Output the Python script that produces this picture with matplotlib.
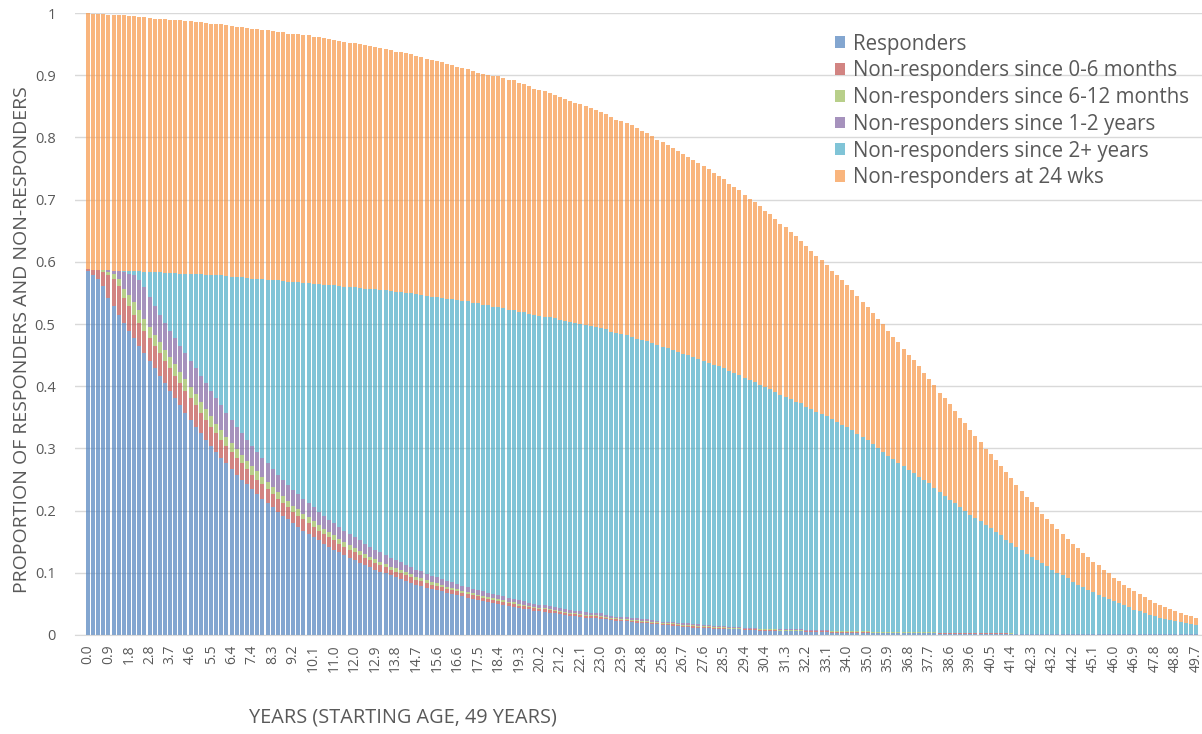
import numpy as np
import matplotlib
matplotlib.use("Agg")
import matplotlib.pyplot as plt

# stacked shares per 12-week cycle (217 bars)
responders = [
    0.586, 0.579, 0.573, 0.561, 0.542, 0.529, 0.515, 0.502, 0.489, 0.477,
    0.465, 0.453, 0.441, 0.429, 0.417, 0.405, 0.393, 0.381, 0.369, 0.357,
    0.346, 0.335, 0.324, 0.314, 0.304, 0.294, 0.285, 0.276, 0.267, 0.258,
    0.250, 0.242, 0.234, 0.226, 0.219, 0.212, 0.205, 0.198, 0.192, 0.186,
    0.180, 0.174, 0.168, 0.163, 0.157, 0.152, 0.147, 0.142, 0.137, 0.133,
    0.128, 0.124, 0.120, 0.116, 0.112, 0.109, 0.105, 0.102, 0.099, 0.096,
    0.093, 0.090, 0.087, 0.084, 0.081, 0.079, 0.076, 0.074, 0.072, 0.070,
    0.068, 0.066, 0.064, 0.062, 0.060, 0.058, 0.056, 0.054, 0.053, 0.051,
    0.050, 0.048, 0.046, 0.045, 0.043, 0.042, 0.041, 0.039, 0.038, 0.037,
    0.036, 0.035, 0.034, 0.032, 0.031, 0.030, 0.029, 0.028, 0.027, 0.027,
    0.026, 0.025, 0.024, 0.023, 0.022, 0.022, 0.021, 0.020, 0.019, 0.019,
    0.018, 0.017, 0.016, 0.016, 0.015, 0.014, 0.013, 0.013, 0.012, 0.012,
    0.011, 0.011, 0.010, 0.010, 0.010, 0.009, 0.009, 0.009, 0.008, 0.008,
    0.008, 0.007, 0.007, 0.007, 0.007, 0.006, 0.006, 0.006, 0.006, 0.006,
    0.005, 0.005, 0.005, 0.005, 0.005, 0.004, 0.004, 0.004, 0.004, 0.004,
    0.004, 0.004, 0.004, 0.003, 0.003, 0.003, 0.003, 0.003, 0.003, 0.003,
    0.003, 0.003, 0.003, 0.003, 0.003, 0.003, 0.002, 0.002, 0.002, 0.002,
    0.002, 0.002, 0.002, 0.002, 0.002, 0.002, 0.002, 0.002, 0.002, 0.002,
    0.002, 0.001, 0.001, 0.001, 0.001, 0.001, 0.001, 0.001, 0.001, 0.001,
    0.001, 0.001, 0.001, 0.001, 0.001, 0.001, 0.001, 0.001, 0.001, 0.001,
    0.001, 0.001, 0.001, 0.001, 0.001, 0.001, 0.001, 0.001, 0.001, 0.001,
    0.001, 0.001, 0.001, 0.001, 0.001, 0.001, 0.001,
]

nr_0_6m = [
    0.002, 0.008, 0.014, 0.022, 0.037, 0.044, 0.046, 0.040, 0.040, 0.038,
    0.037, 0.036, 0.036, 0.036, 0.036, 0.036, 0.036, 0.036, 0.036, 0.036,
    0.035, 0.034, 0.033, 0.032, 0.031, 0.030, 0.029, 0.028, 0.027, 0.027,
    0.026, 0.025, 0.024, 0.024, 0.023, 0.022, 0.021, 0.021, 0.020, 0.019,
    0.018, 0.018, 0.018, 0.017, 0.017, 0.016, 0.016, 0.015, 0.015, 0.014,
    0.014, 0.013, 0.013, 0.012, 0.012, 0.011, 0.011, 0.010, 0.010, 0.009,
    0.009, 0.009, 0.009, 0.009, 0.008, 0.008, 0.008, 0.007, 0.007, 0.007,
    0.006, 0.006, 0.006, 0.006, 0.006, 0.006, 0.006, 0.006, 0.005, 0.005,
    0.005, 0.005, 0.005, 0.005, 0.004, 0.004, 0.004, 0.004, 0.004, 0.004,
    0.004, 0.003, 0.003, 0.003, 0.003, 0.003, 0.003, 0.003, 0.003, 0.003,
    0.003, 0.003, 0.002, 0.002, 0.002, 0.002, 0.002, 0.002, 0.002, 0.002,
    0.002, 0.002, 0.002, 0.002, 0.002, 0.002, 0.002, 0.002, 0.002, 0.0015,
    0.0015, 0.0015, 0.0015, 0.0015, 0.0015, 0.001, 0.001, 0.001, 0.001, 0.001,
] + [0.001] * 25 + [0.0008] * 5 + [0.0006] * 10 + [0.0005] * 10 + [0.0004] * 10 + [0.0003] * 27

nr_6_12m = [
    0.0, 0.0, 0.0, 0.004, 0.005, 0.008, 0.011, 0.015, 0.017, 0.021,
    0.020, 0.019, 0.018, 0.018, 0.018, 0.018, 0.018, 0.018, 0.018, 0.018,
    0.018, 0.018, 0.018, 0.017, 0.017, 0.016, 0.016, 0.015, 0.015, 0.014,
    0.014, 0.013, 0.013, 0.013, 0.012, 0.012, 0.012, 0.011, 0.011, 0.010,
    0.010, 0.010, 0.009, 0.009, 0.009, 0.009, 0.008, 0.008, 0.008, 0.008,
    0.007, 0.007, 0.007, 0.007, 0.006, 0.006, 0.006, 0.006, 0.005, 0.005,
    0.005, 0.005, 0.0045, 0.0045, 0.0045, 0.0045, 0.0045, 0.0045, 0.004, 0.004,
    0.0035, 0.0035, 0.0035, 0.003, 0.003, 0.003, 0.003, 0.003, 0.003, 0.003,
    0.003, 0.0025, 0.0025, 0.0025, 0.0025, 0.0025, 0.002, 0.002, 0.002, 0.002,
    0.002, 0.002, 0.002, 0.002, 0.002, 0.0018, 0.0018, 0.0018, 0.0018, 0.0018,
] + [0.0016] * 10 + [0.0015] * 10 + [0.0012] * 10 + [0.001] * 20 + [0.0008] * 10 + [0.0006] * 10 + [0.0005] * 10 + [0.0004] * 10 + [0.0003] * 27

nr_1_2y = [
    0.0, 0.0, 0.0, 0.0, 0.003, 0.005, 0.014, 0.027, 0.035, 0.043,
    0.049, 0.051, 0.048, 0.046, 0.044, 0.043, 0.042, 0.042, 0.042, 0.042,
    0.042, 0.042, 0.042, 0.042, 0.041, 0.041, 0.040, 0.038, 0.037, 0.036,
    0.035, 0.034, 0.033, 0.032, 0.031, 0.030, 0.029, 0.028, 0.027, 0.026,
    0.025, 0.025, 0.024, 0.023, 0.022, 0.021, 0.021, 0.020, 0.020, 0.019,
    0.019, 0.018, 0.018, 0.017, 0.016, 0.016, 0.015, 0.015, 0.014, 0.014,
    0.013, 0.013, 0.012, 0.012, 0.011, 0.011, 0.010, 0.010, 0.010, 0.009,
    0.009, 0.009, 0.008, 0.008, 0.008, 0.007, 0.007, 0.007, 0.007, 0.007,
    0.007, 0.007, 0.006, 0.006, 0.006, 0.006, 0.005, 0.005, 0.005, 0.005,
    0.005, 0.005, 0.004, 0.004, 0.004, 0.004, 0.004, 0.004, 0.004, 0.004,
    0.004, 0.003, 0.003, 0.003, 0.003, 0.003, 0.003, 0.003, 0.003, 0.003,
    0.003, 0.002, 0.002, 0.002, 0.002, 0.002, 0.002, 0.002, 0.002, 0.002,
    0.002, 0.002, 0.002, 0.002, 0.002, 0.0015, 0.0015, 0.0015, 0.0015, 0.0015,
] + [0.0012] * 10 + [0.001] * 10 + [0.0008] * 10 + [0.0006] * 10 + [0.0005] * 10 + [0.0004] * 10 + [0.0003] * 27

nr_2y_plus = [
    0.0, 0.0, 0.0, 0.0, 0.0, 0.0, 0.0, 0.001, 0.004, 0.006,
    0.014, 0.025, 0.040, 0.054, 0.068, 0.080, 0.093, 0.105, 0.116, 0.128,
    0.140, 0.151, 0.163, 0.174, 0.186, 0.197, 0.209, 0.220, 0.230, 0.241,
    0.251, 0.260, 0.269, 0.278, 0.287, 0.295, 0.303, 0.312, 0.319, 0.326,
    0.334, 0.341, 0.347, 0.354, 0.360, 0.366, 0.371, 0.377, 0.382, 0.387,
    0.392, 0.397, 0.402, 0.406, 0.410, 0.415, 0.419, 0.422, 0.426, 0.429,
    0.432, 0.435, 0.438, 0.440, 0.443, 0.444, 0.446, 0.448, 0.450, 0.452,
    0.453, 0.455, 0.457, 0.458, 0.460, 0.460, 0.461, 0.461, 0.462, 0.462,
    0.463, 0.463, 0.463, 0.464, 0.464, 0.464, 0.464, 0.464, 0.464, 0.464,
    0.464, 0.464, 0.464, 0.464, 0.463, 0.463, 0.463, 0.462, 0.461, 0.460,
    0.459, 0.459, 0.457, 0.456, 0.455, 0.453, 0.452, 0.450, 0.448, 0.447,
    0.445, 0.444, 0.442, 0.440, 0.438, 0.436, 0.434, 0.431, 0.429, 0.427,
    0.425, 0.422, 0.420, 0.417, 0.415, 0.411, 0.409, 0.405, 0.402, 0.399,
    0.396, 0.392, 0.388, 0.385, 0.381, 0.377, 0.374, 0.370, 0.366, 0.363,
    0.359, 0.355, 0.351, 0.348, 0.344, 0.340, 0.336, 0.331, 0.328, 0.323,
    0.317, 0.312, 0.307, 0.301, 0.295, 0.289, 0.283, 0.277, 0.271, 0.266,
    0.260, 0.256, 0.249, 0.244, 0.239, 0.232, 0.226, 0.220, 0.214, 0.208,
    0.202, 0.196, 0.190, 0.185, 0.179, 0.174, 0.168, 0.162, 0.157, 0.150,
    0.145, 0.140, 0.134, 0.128, 0.123, 0.118, 0.113, 0.108, 0.102, 0.098,
    0.094, 0.089, 0.084, 0.079, 0.075, 0.071, 0.067, 0.063, 0.059, 0.056,
    0.052, 0.049, 0.046, 0.043, 0.039, 0.036, 0.034, 0.031, 0.028, 0.026,
    0.024, 0.022, 0.020, 0.019, 0.017, 0.015, 0.014,
]

nr_at_24wk = [
    0.412, 0.412, 0.412, 0.411, 0.410, 0.411, 0.410, 0.411, 0.410, 0.410,
    0.409, 0.409, 0.409, 0.408, 0.407, 0.408, 0.407, 0.407, 0.407, 0.406,
    0.406, 0.406, 0.405, 0.405, 0.404, 0.404, 0.404, 0.404, 0.403, 0.402,
    0.402, 0.402, 0.402, 0.402, 0.401, 0.401, 0.401, 0.400, 0.400, 0.400,
    0.399, 0.399, 0.399, 0.398, 0.397, 0.397, 0.397, 0.396, 0.395, 0.394,
    0.394, 0.393, 0.392, 0.392, 0.392, 0.390, 0.389, 0.389, 0.388, 0.387,
    0.386, 0.386, 0.385, 0.384, 0.383, 0.382, 0.382, 0.381, 0.380, 0.379,
    0.378, 0.377, 0.375, 0.374, 0.373, 0.372, 0.371, 0.371, 0.370, 0.370,
    0.370, 0.370, 0.370, 0.369, 0.368, 0.367, 0.366, 0.364, 0.363, 0.362,
    0.361, 0.359, 0.358, 0.356, 0.355, 0.353, 0.353, 0.352, 0.351, 0.349,
    0.348, 0.346, 0.345, 0.343, 0.342, 0.342, 0.340, 0.338, 0.337, 0.334,
    0.333, 0.330, 0.329, 0.326, 0.324, 0.323, 0.321, 0.319, 0.317, 0.315,
    0.313, 0.311, 0.308, 0.306, 0.303, 0.302, 0.299, 0.297, 0.294, 0.291,
    0.289, 0.287, 0.284, 0.281, 0.278, 0.275, 0.272, 0.269, 0.266, 0.262,
    0.259, 0.255, 0.251, 0.247, 0.243, 0.239, 0.235, 0.232, 0.228, 0.224,
    0.221, 0.217, 0.213, 0.211, 0.208, 0.205, 0.200, 0.197, 0.194, 0.189,
    0.186, 0.181, 0.178, 0.173, 0.168, 0.165, 0.160, 0.157, 0.153, 0.148,
    0.144, 0.141, 0.136, 0.131, 0.128, 0.122, 0.119, 0.116, 0.111, 0.108,
    0.104, 0.099, 0.095, 0.092, 0.088, 0.085, 0.080, 0.076, 0.074, 0.071,
    0.066, 0.063, 0.061, 0.059, 0.055, 0.053, 0.049, 0.047, 0.044, 0.041,
    0.038, 0.036, 0.033, 0.031, 0.030, 0.028, 0.025, 0.024, 0.022, 0.021,
    0.019, 0.018, 0.016, 0.015, 0.014, 0.013, 0.012,
]

tick_labels = [
    "0.0", "0.9", "1.8", "2.8", "3.7", "4.6", "5.5", "6.4", "7.4", "8.3",
    "9.2", "10.1", "11.0", "12.0", "12.9", "13.8", "14.7", "15.6", "16.6", "17.5",
    "18.4", "19.3", "20.2", "21.2", "22.1", "23.0", "23.9", "24.8", "25.8", "26.7",
    "27.6", "28.5", "29.4", "30.4", "31.3", "32.2", "33.1", "34.0", "35.0", "35.9",
    "36.8", "37.7", "38.6", "39.6", "40.5", "41.4", "42.3", "43.2", "44.2", "45.1",
    "46.0", "46.9", "47.8", "48.8", "49.7",
]

series_names = [
    "Responders",
    "Non-responders since 0-6 months",
    "Non-responders since 6-12 months",
    "Non-responders since 1-2 years",
    "Non-responders since 2+ years",
    "Non-responders at 24 wks",
]
colors = ["#4F81BD", "#C0504D", "#9BBB59", "#8064A2", "#4BACC6", "#F79646"]

plt.rcParams["font.family"] = ["Open Sans", "DejaVu Sans"]
grey = "#595959"

fig = plt.figure(figsize=(12.02, 7.34), dpi=100)
ax = fig.add_axes([75 / 1202, 99 / 734, 1127 / 1202, 622 / 734])

series = [responders, nr_0_6m, nr_6_12m, nr_1_2y, nr_2y_plus, nr_at_24wk]
x = np.arange(len(responders))
bottom = np.zeros(len(x))
for name, vals, col in zip(series_names, series, colors):
    vals = np.array(vals)
    ax.bar(x, vals, 0.78, bottom=bottom, color=col, alpha=0.7,
           linewidth=0, label=name, zorder=2)
    bottom += vals

ax.set_xlim(-2.53, 217.17)
ax.set_ylim(0, 1)
yt = np.round(np.arange(0, 1.01, 0.1), 1)
ax.set_yticks(yt)
ax.set_yticklabels(["0" if v == 0 else "1" if v == 1 else f"{v:.1f}" for v in yt],
                   fontsize=10.5, color=grey)
ax.set_xticks(x[::4])
ax.set_xticklabels(tick_labels, rotation=90, fontsize=10, color=grey)
ax.tick_params(axis="y", length=0, pad=14)
ax.tick_params(axis="x", length=0, pad=7)
ax.yaxis.grid(True, color="#D9D9D9", linewidth=1, zorder=0)
ax.set_axisbelow(True)
for s in ["top", "right", "left"]:
    ax.spines[s].set_visible(False)
ax.spines["bottom"].set_color("#D9D9D9")

fig.text(403 / 1202, 1 - 718 / 734, "YEARS (STARTING AGE, 49 YEARS)",
         ha="center", va="center", fontsize=14.3, color=grey)
fig.text(22 / 1202, 1 - 340 / 734, "PROPORTION OF RESPONDERS AND NON-RESPONDERS",
         ha="center", va="center", rotation=90, fontsize=14, color=grey)

leg = ax.legend(loc="upper left", bbox_to_anchor=(0.674, 0.967), frameon=False,
                fontsize=14.8, handlelength=0.5, handleheight=0.5,
                handletextpad=0.38, labelspacing=0.28, borderpad=0,
                borderaxespad=0)
for t in leg.get_texts():
    t.set_color(grey)

fig.savefig("out.png", dpi=100)
